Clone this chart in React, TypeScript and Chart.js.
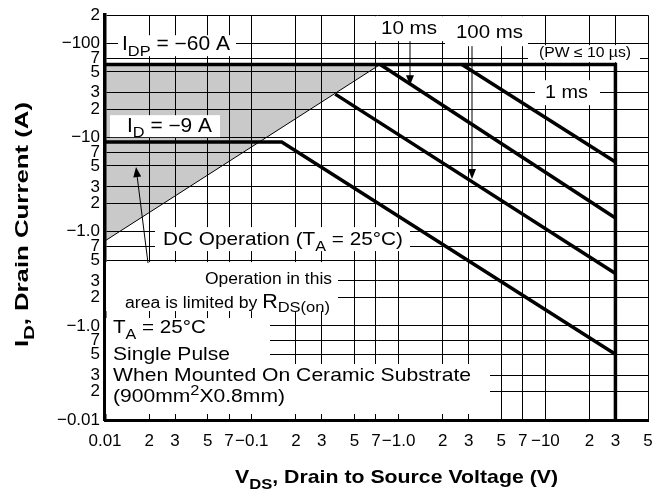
import React, { useEffect, useRef } from "react";
import { Chart, registerables } from "chart.js";

Chart.register(...registerables);

// ---------- data ----------
const xTickValues = [0.01, 0.02, 0.03, 0.05, 0.07, 0.1, 0.2, 0.3, 0.5, 0.7, 1, 2, 3, 5, 7, 10, 20, 30, 50];
const xTickLabels = ["0.01", "2", "3", "5", "7", "−0.1", "2", "3", "5", "7", "−1.0", "2", "3", "5", "7", "−10", "2", "3", "5"];
const yTickValues = [0.01, 0.02, 0.03, 0.05, 0.07, 0.1, 0.2, 0.3, 0.5, 0.7, 1, 2, 3, 5, 7, 10, 20, 30, 50, 70, 100, 200];
const yTickLabels = ["−0.01", "2", "3", "5", "7", "−1.0", "2", "3", "5", "7", "−1.0", "2", "3", "5", "7", "−10", "2", "3", "5", "7", "−100", "2"];

const pulseLimitV = [0.01, 30, 30];
const pulseLimitI = [60, 60, 0.01];
const rdsV = [0.01, 0.75];
const rdsI = [0.8, 60];
const ms1V = [2.7, 30];
const ms1I = [60, 5.5];
const ms10V = [0.75, 30];
const ms10I = [60, 1.4];
const ms100V = [0.37, 30];
const ms100I = [29, 0.36];
const dcV = [0.01, 0.16, 30];
const dcI = [9, 9, 0.05];

const pts = (xs: number[], ys: number[]) => xs.map((x, i) => ({ x, y: ys[i] }));

const FAMILY = '"Liberation Sans", Arial, Helvetica, sans-serif';

type Part = { t: string; k?: "sub" | "sup"; s?: number; dy?: number };

function drawRich(
  ctx: CanvasRenderingContext2D,
  parts: Part[],
  x: number,
  y: number,
  size: number,
  width?: number,
  bold = false
) {
  const fontFor = (p: Part) => {
    const sz = p.s ?? (p.k ? size * 0.78 : size);
    return `${bold ? "bold " : ""}${sz}px ${FAMILY}`;
  };
  const dyFor = (p: Part) =>
    p.dy ?? (p.k === "sub" ? size * 0.3 : p.k === "sup" ? -size * 0.36 : 0);
  let natural = 0;
  for (const p of parts) {
    ctx.font = fontFor(p);
    natural += ctx.measureText(p.t).width;
  }
  const sx = width ? width / natural : 1;
  ctx.save();
  ctx.translate(x, y);
  ctx.scale(sx, 1);
  ctx.textAlign = "left";
  ctx.textBaseline = "alphabetic";
  ctx.fillStyle = "#000";
  let cx = 0;
  for (const p of parts) {
    ctx.font = fontFor(p);
    ctx.fillText(p.t, cx, dyFor(p));
    cx += ctx.measureText(p.t).width;
  }
  ctx.restore();
}

// annotation layout (reference pixel frame: plot area 105..648 x 15..420)
const labelBoxes = [
  [118, 35, 236, 56],
  [110, 115, 220, 137],
  [365, 16, 443, 41],
  [445, 16, 528, 46],
  [528, 45, 640, 62],
  [535, 80, 600, 105],
  [155, 227, 410, 251],
  [106, 262, 338, 311],
  [106, 318, 270, 364],
  [106, 364, 490, 414],
];

const labels: { parts: Part[]; x: number; y: number; size: number; width: number }[] = [
  { parts: [{ t: "I" }, { t: "DP", k: "sub" }, { t: " = −60 A" }], x: 122, y: 50, size: 19.5, width: 108 },
  { parts: [{ t: "I" }, { t: "D", k: "sub" }, { t: " = −9 A" }], x: 127, y: 131.5, size: 19.5, width: 85 },
  { parts: [{ t: "10 ms" }], x: 381, y: 34, size: 19, width: 56 },
  { parts: [{ t: "100 ms" }], x: 456, y: 38, size: 19, width: 67 },
  { parts: [{ t: "(PW ≤ 10 µs)" }], x: 539, y: 57, size: 14, width: 92 },
  { parts: [{ t: "1 ms" }], x: 545, y: 98, size: 19, width: 43 },
  { parts: [{ t: "DC Operation (T" }, { t: "A", k: "sub" }, { t: " = 25°C)" }], x: 163, y: 245, size: 18.5, width: 240 },
  { parts: [{ t: "Operation in this" }], x: 205, y: 284, size: 16, width: 127 },
  { parts: [{ t: "area is limited by " }, { t: "R", s: 19.5 }, { t: "DS(on)", s: 15, dy: 4 }], x: 125, y: 308, size: 16, width: 205 },
  { parts: [{ t: "T" }, { t: "A", k: "sub" }, { t: " = 25°C" }], x: 113, y: 333, size: 18.5, width: 93 },
  { parts: [{ t: "Single Pulse" }], x: 113, y: 360, size: 18.5, width: 117 },
  { parts: [{ t: "When Mounted On Ceramic Substrate" }], x: 113, y: 381, size: 18.5, width: 358 },
  { parts: [{ t: "(900mm" }, { t: "2", k: "sup" }, { t: "X0.8mm)" }], x: 113, y: 402, size: 18.5, width: 172 },
];

const arrows = [
  [148, 263, 136, 167],
  [410, 41, 410, 85],
  [472, 46, 472, 179],
];

const RDS_INDEX = 1;

const annotPlugin = {
  id: "annot",
  afterDatasetDraw(chart: any, args: any) {
    if (args.index !== RDS_INDEX) return;
    const { ctx, chartArea: ca } = chart;
    const sx = (ca.right - ca.left) / 543;
    const sy = (ca.bottom - ca.top) / 405;
    const X = (x: number) => ca.left + (x - 105) * sx;
    const Y = (y: number) => ca.top + (y - 15) * sy;
    ctx.save();
    ctx.fillStyle = "#fff";
    for (const [x1, y1, x2, y2] of labelBoxes) {
      ctx.fillRect(X(x1), Y(y1), X(x2) - X(x1), Y(y2) - Y(y1));
    }
    ctx.restore();
  },
  afterDatasetsDraw(chart: any) {
    const { ctx, chartArea: ca } = chart;
    const sx = (ca.right - ca.left) / 543;
    const sy = (ca.bottom - ca.top) / 405;
    const X = (x: number) => ca.left + (x - 105) * sx;
    const Y = (y: number) => ca.top + (y - 15) * sy;
    for (const l of labels) {
      drawRich(ctx, l.parts, X(l.x), Y(l.y), l.size, l.width * sx);
    }
    ctx.save();
    ctx.strokeStyle = "#000";
    ctx.fillStyle = "#000";
    ctx.lineWidth = 1;
    for (const [x1, y1, x2, y2] of arrows) {
      const ax = X(x1), ay = Y(y1), bx = X(x2), by = Y(y2);
      const ang = Math.atan2(by - ay, bx - ax);
      const hl = 10, hw = 4;
      ctx.beginPath();
      ctx.moveTo(ax, ay);
      ctx.lineTo(bx - Math.cos(ang) * hl * 0.8, by - Math.sin(ang) * hl * 0.8);
      ctx.stroke();
      ctx.beginPath();
      ctx.moveTo(bx, by);
      ctx.lineTo(bx - Math.cos(ang) * hl - Math.sin(ang) * hw, by - Math.sin(ang) * hl + Math.cos(ang) * hw);
      ctx.lineTo(bx - Math.cos(ang) * hl + Math.sin(ang) * hw, by - Math.sin(ang) * hl - Math.cos(ang) * hw);
      ctx.closePath();
      ctx.fill();
    }
    ctx.restore();
  },
  afterDraw(chart: any) {
    const { ctx } = chart;
    drawRich(ctx, [{ t: "V" }, { t: "DS", k: "sub" }, { t: ", Drain to Source Voltage (V)" }], 235, 483, 18.5, 323, true);
    ctx.save();
    ctx.translate(28, 347);
    ctx.rotate(-Math.PI / 2);
    drawRich(ctx, [{ t: "I" }, { t: "D", k: "sub" }, { t: ", Drain Current (A)" }], 0, 0, 18.5, 245, true);
    ctx.restore();
  },
};

export default function App() {
  const ref = useRef<HTMLCanvasElement>(null);
  useEffect(() => {
    if (!ref.current) return;
    const thick = { borderColor: "#000", borderWidth: 3.5, pointRadius: 0, showLine: true, fill: false, order: 0 };
    const chart = new Chart(ref.current, {
      type: "scatter",
      data: {
        datasets: [
          { label: "Pulse limit", data: pts(pulseLimitV, pulseLimitI), ...thick },
          {
            label: "RDS(on) limit",
            data: pts(rdsV, rdsI),
            borderColor: "#000",
            borderWidth: 1,
            pointRadius: 0,
            showLine: true,
            fill: { value: 60 },
            backgroundColor: "rgba(0,0,0,0.21)",
            order: 1,
          },
          { label: "1 ms", data: pts(ms1V, ms1I), ...thick },
          { label: "10 ms", data: pts(ms10V, ms10I), ...thick },
          { label: "100 ms", data: pts(ms100V, ms100I), ...thick },
          { label: "DC", data: pts(dcV, dcI), ...thick },
        ] as any,
      },
      options: {
        responsive: false,
        animation: false,
        devicePixelRatio: 1,
        layout: { padding: { left: 0, right: 16, top: 15, bottom: 0 } },
        plugins: { legend: { display: false }, tooltip: { enabled: false } },
        scales: {
          x: {
            type: "logarithmic",
            min: 0.01,
            max: 50,
            afterBuildTicks: (s: any) => {
              s.ticks = xTickValues.map((v) => ({ value: v }));
            },
            afterFit: (s: any) => {
              s.height = 75;
            },
            ticks: {
              autoSkip: false,
              maxRotation: 0,
              minRotation: 0,
              padding: 11,
              color: "#000",
              font: { family: FAMILY, size: 17 },
              callback: (_v: any, i: number) => xTickLabels[i],
            },
            grid: { color: "#000", lineWidth: 1, drawTicks: false },
            border: { color: "#000", width: 3 },
          },
          y: {
            type: "logarithmic",
            min: 0.01,
            max: 200,
            afterBuildTicks: (s: any) => {
              s.ticks = yTickValues.map((v) => ({ value: v }));
            },
            afterFit: (s: any) => {
              s.width = 105;
            },
            ticks: {
              autoSkip: false,
              padding: 5,
              color: "#000",
              font: { family: FAMILY, size: 17 },
              callback: (_v: any, i: number) => yTickLabels[i],
            },
            grid: { color: "#000", lineWidth: 1, drawTicks: false },
            border: { color: "#000", width: 3.5 },
          },
        },
      } as any,
      plugins: [annotPlugin],
    });
    return () => chart.destroy();
  }, []);
  return (
    <div style={{ position: "fixed", left: 0, top: 0, width: 664, height: 495, background: "#fff" }}>
      <canvas ref={ref} width={664} height={495} style={{ display: "block", width: 664, height: 495 }} />
    </div>
  );
}
